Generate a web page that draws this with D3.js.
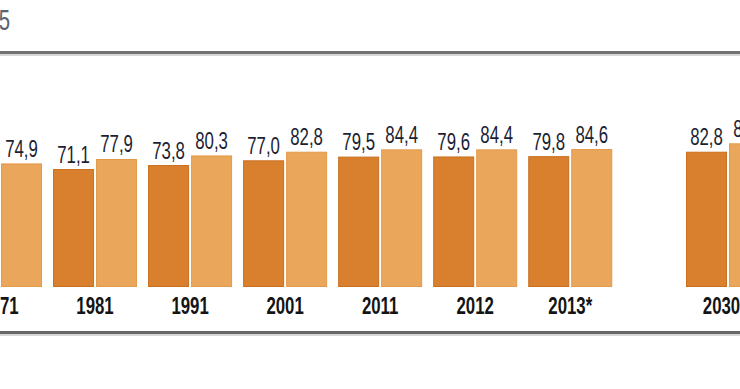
<!DOCTYPE html>
<html>
<head>
<meta charset="utf-8">
<script src="https://cdn.jsdelivr.net/npm/d3@7/dist/d3.min.js"></script>
<style>
  html, body { margin: 0; padding: 0; background: #fff; }
  svg { display: block; }
  text { font-family: "Liberation Sans", Arial, sans-serif; }
</style>
</head>
<body>
<svg id="chart" width="740" height="389"></svg>
<script>
// ---- data ----
const years = ["1971", "1981", "1991", "2001", "2011", "2012", "2013*", "2030**"];
const slots = [0, 1, 2, 3, 4, 5, 6, 7.66];
const men = [67.4, 71.1, 73.8, 77.0, 79.5, 79.6, 79.8, 82.8];
const women = [74.9, 77.9, 80.3, 82.8, 84.4, 84.4, 84.6, 88.5];
const seriesKeys = ["men", "women"];
const titleTail = "5";

const colors = { men: "#D8802D", women: "#EAA65B" };
const edges = { men: "#C96F1E", women: "#E39A4A" };

const svg = d3.select("#chart");
const W = 740, H = 389;

const xSlot = d3.scaleLinear().domain([0, 7.66]).range([-42, 686]);
const xInner = d3.scaleBand().domain(seriesKeys).range([0, 84]).paddingInner(0.0465);
const yBase = -8.6;
const y = d3.scaleLinear().domain([yBase, 100]).range([287, 287 - 1.48 * 108.6]);

const rows = years.map((yr, i) => ({ year: yr, slot: slots[i], men: men[i], women: women[i] }));

// rules
svg.append("line").attr("x1", 0).attr("x2", W).attr("y1", 52.5).attr("y2", 52.5)
  .attr("stroke", "#727272").attr("stroke-width", 3);
svg.append("line").attr("x1", 0).attr("x2", W).attr("y1", 55).attr("y2", 55)
  .attr("stroke", "#d6d6d6").attr("stroke-width", 2);
svg.append("line").attr("x1", 0).attr("x2", W).attr("y1", 332.5).attr("y2", 332.5)
  .attr("stroke", "#676767").attr("stroke-width", 3);
svg.append("line").attr("x1", 0).attr("x2", W).attr("y1", 335).attr("y2", 335)
  .attr("stroke", "#d6d6d6").attr("stroke-width", 2);

// title fragment
svg.append("text")
  .attr("transform", "translate(10,30) scale(0.7,1)")
  .attr("text-anchor", "end")
  .attr("font-size", 29)
  .attr("fill", "#5b6270")
  .text(titleTail);

const groups = svg.selectAll("g.grp").data(rows).join("g")
  .attr("class", "grp")
  .attr("transform", d => `translate(${xSlot(d.slot)},0)`);

groups.selectAll("rect").data(d => seriesKeys.map(k => ({ key: k, value: d[k] }))).join("rect")
  .attr("x", d => xInner(d.key) + 0.5)
  .attr("width", xInner.bandwidth() - 1)
  .attr("y", d => y(d.value) + 0.5)
  .attr("height", d => y(yBase) - y(d.value) - 1)
  .attr("fill", d => colors[d.key])
  .attr("stroke", d => edges[d.key])
  .attr("stroke-width", 1);

const fmt = v => d3.format(".1f")(v).replace(".", ",");

groups.selectAll("text.val").data(d => seriesKeys.map(k => ({ key: k, value: d[k] }))).join("text")
  .attr("class", "val")
  .attr("transform", d => `translate(${xInner(d.key) + xInner.bandwidth() / 2},${y(d.value) - 6.5}) scale(0.7,1)`)
  .attr("text-anchor", "middle")
  .attr("font-size", 24)
  .attr("fill", "#1c1e32")
  .text(d => fmt(d.value));

groups.append("text")
  .attr("class", "yr")
  .attr("transform", `translate(${xInner.range()[1] / 2},314) scale(0.7,1)`)
  .attr("text-anchor", "middle")
  .attr("font-size", 24)
  .attr("font-weight", "bold")
  .attr("fill", "#141414")
  .text(d => d.year);
</script>
</body>
</html>
